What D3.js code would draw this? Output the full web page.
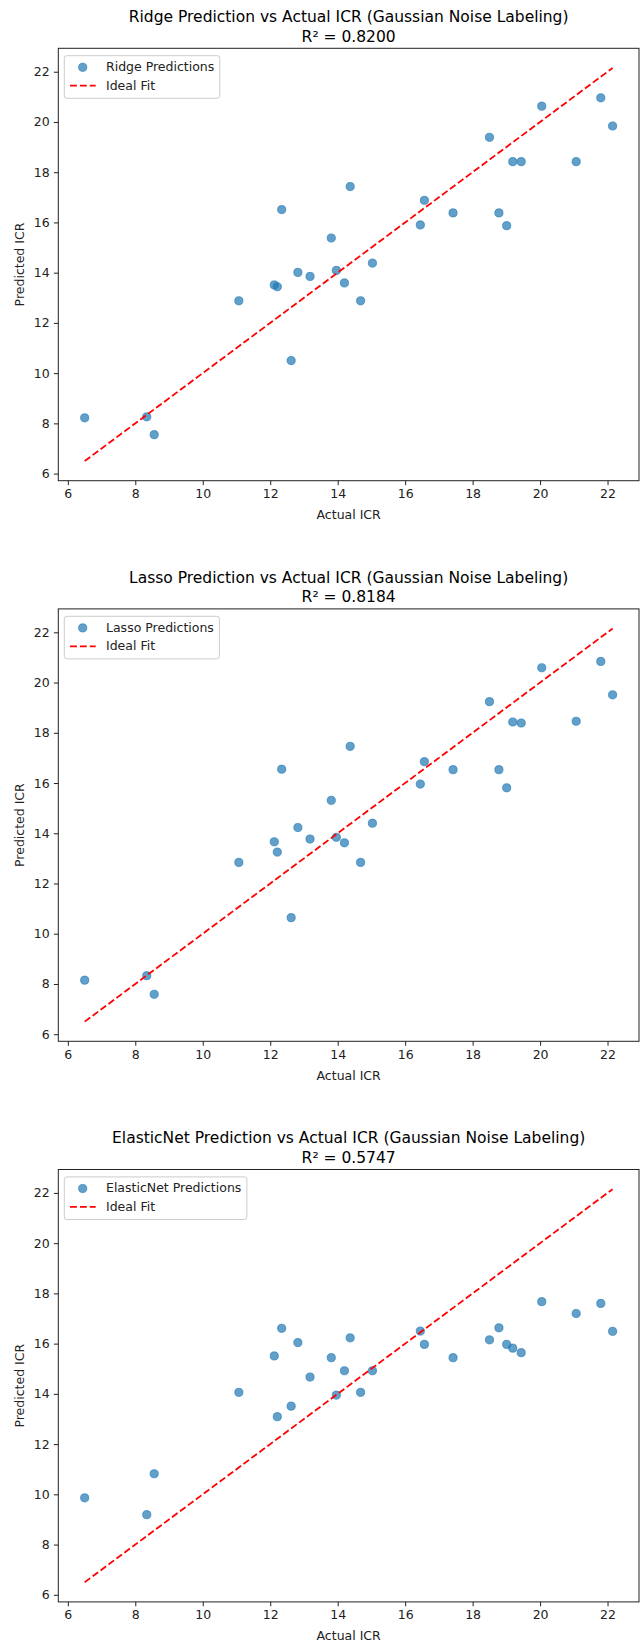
<!DOCTYPE html>
<html>
<head>
<meta charset="utf-8">
<script src="https://cdn.jsdelivr.net/npm/d3@7"></script>
<style>
  body { margin: 0; background: #fff; }
  svg { display: block; font-family: "DejaVu Sans", sans-serif; }
</style>
</head>
<body>
<div id="chart"></div>
<script>
// Section 1: data
// =====================================

// actual ICR values (shared x for every panel)
var actualICR = [6.50, 8.34, 8.56, 11.07, 12.12, 12.21, 12.34, 12.62, 12.82, 13.18,
  13.81, 13.96, 14.20, 14.37, 14.68, 15.03, 16.45, 16.57, 17.42, 18.50,
  18.78, 19.01, 19.19, 19.44, 20.05, 21.07, 21.80, 22.15];

// predicted ICR per model
var ridgePred = [8.22, 8.26, 7.55, 12.88, 13.51, 13.44, 16.51, 10.50, 14.01, 13.85,
  15.38, 14.09, 13.59, 17.43, 12.88, 14.38, 15.90, 16.88, 16.38, 19.39,
  16.38, 15.87, 18.42, 18.42, 20.63, 18.42, 20.96, 19.84];

var lassoPred = [8.15, 8.33, 7.59, 12.84, 13.66, 13.25, 16.55, 10.64, 14.23, 13.77,
  15.31, 13.84, 13.62, 17.46, 12.84, 14.40, 15.96, 16.85, 16.53, 19.24,
  16.53, 15.81, 18.43, 18.39, 20.59, 18.46, 20.84, 19.51];

var elasticPred = [9.86, 9.19, 10.82, 14.06, 15.51, 13.09, 16.61, 13.51, 16.04, 14.67,
  15.44, 13.95, 14.92, 16.23, 14.06, 14.92, 16.50, 15.97, 15.44, 16.15,
  16.63, 15.97, 15.82, 15.64, 17.67, 17.20, 17.60, 16.49];

var modelNames = ["Ridge", "Lasso", "ElasticNet"];
var r2Labels = ["0.8200", "0.8184", "0.5747"];
var tickValues = [6, 8, 10, 12, 14, 16, 18, 20, 22];

// Section 2: layout
// ==================
var width = 643;
var height = 1645;
var panelStep = 560.6;   // vertical distance between panels
var plotLeft = 58.3;
var plotRight = 639;
var plotTop = 48.3;
var plotBottom = 480.7;

var blue = "#1f77b4";
var fontSmall = "12.5px";
var fontTitle = "15.5px";

var svg = d3.select("#chart")
  .append("svg")
  .attr("width", width)
  .attr("height", height);

svg.append("rect")
  .attr("width", width)
  .attr("height", height)
  .attr("fill", "#fff");

// matplotlib style 5% margins around the ideal-fit line range
var lo = d3.min(actualICR);
var hi = d3.max(actualICR);
var pad = (hi - lo) * 0.05;

var xScale = d3.scaleLinear()
  .domain([lo - pad, hi + pad])
  .range([plotLeft, plotRight]);

var yScale = d3.scaleLinear()
  .domain([lo - pad, hi + pad])
  .range([plotBottom, plotTop]);

var allPreds = [ridgePred, lassoPred, elasticPred];

// Section 3: one panel per model
// ===============================
function drawPanel(i) {
  var name = modelNames[i];
  var preds = allPreds[i];
  var g = svg.append("g")
    .attr("transform", "translate(0," + (i * panelStep) + ")");

  var cx = (plotLeft + plotRight) / 2;

  // title, two lines
  g.append("text")
    .attr("x", cx)
    .attr("y", 22)
    .attr("text-anchor", "middle")
    .attr("font-size", fontTitle)
    .attr("fill", "#000")
    .text(name + " Prediction vs Actual ICR (Gaussian Noise Labeling)");
  g.append("text")
    .attr("x", cx)
    .attr("y", 41.7)
    .attr("text-anchor", "middle")
    .attr("font-size", fontTitle)
    .attr("fill", "#000")
    .text("R\u00b2 = " + r2Labels[i]);

  // axes
  var xAxis = d3.axisBottom(xScale)
    .tickValues(tickValues)
    .tickSize(4.4)
    .tickPadding(4.2)
    .tickSizeOuter(0);
  var yAxis = d3.axisLeft(yScale)
    .tickValues(tickValues)
    .tickSize(4.4)
    .tickPadding(4.2)
    .tickSizeOuter(0);

  var xg = g.append("g")
    .attr("transform", "translate(0," + plotBottom + ")")
    .call(xAxis);
  var yg = g.append("g")
    .attr("transform", "translate(" + plotLeft + ",0)")
    .call(yAxis);

  [xg, yg].forEach(function(a) {
    a.select(".domain").remove();
    a.selectAll("line").attr("stroke", "#222").attr("stroke-width", 1);
    a.selectAll("text")
      .attr("font-size", fontSmall)
      .attr("font-family", "DejaVu Sans, sans-serif")
      .attr("fill", "#222");
  });

  // frame
  g.append("rect")
    .attr("x", plotLeft)
    .attr("y", plotTop)
    .attr("width", plotRight - plotLeft)
    .attr("height", plotBottom - plotTop)
    .attr("fill", "none")
    .attr("stroke", "#222")
    .attr("stroke-width", 1);

  // axis labels
  g.append("text")
    .attr("x", cx)
    .attr("y", 519)
    .attr("text-anchor", "middle")
    .attr("font-size", fontSmall)
    .attr("fill", "#222")
    .text("Actual ICR");
  g.append("text")
    .attr("transform", "translate(24," + ((plotTop + plotBottom) / 2) + ")rotate(-90)")
    .attr("text-anchor", "middle")
    .attr("font-size", fontSmall)
    .attr("fill", "#222")
    .text("Predicted ICR");

  // scatter points
  g.append("g")
    .selectAll("circle")
    .data(actualICR)
    .enter()
    .append("circle")
    .attr("cx", function(d) { return xScale(d); })
    .attr("cy", function(d, j) { return yScale(preds[j]); })
    .attr("r", 4.1)
    .attr("fill", blue)
    .attr("fill-opacity", 0.7)
    .attr("stroke", blue)
    .attr("stroke-opacity", 0.7)
    .attr("stroke-width", 0.9);

  // ideal fit line
  g.append("line")
    .attr("x1", xScale(lo))
    .attr("y1", yScale(lo))
    .attr("x2", xScale(hi))
    .attr("y2", yScale(hi))
    .attr("stroke", "red")
    .attr("stroke-width", 1.8)
    .attr("stroke-dasharray", "6.9,3");

  // legend
  var lg = g.append("g");
  var box = lg.append("rect")
    .attr("x", 64.3)
    .attr("y", 55.7)
    .attr("height", 42.6)
    .attr("rx", 2.5)
    .attr("fill", "#fff")
    .attr("fill-opacity", 0.8)
    .attr("stroke", "#cccccc")
    .attr("stroke-width", 1);

  lg.append("circle")
    .attr("cx", 82.7)
    .attr("cy", 67.3)
    .attr("r", 4.1)
    .attr("fill", blue)
    .attr("fill-opacity", 0.7)
    .attr("stroke", blue)
    .attr("stroke-opacity", 0.7)
    .attr("stroke-width", 0.9);
  lg.append("line")
    .attr("x1", 70)
    .attr("x2", 95.7)
    .attr("y1", 85.7)
    .attr("y2", 85.7)
    .attr("stroke", "red")
    .attr("stroke-width", 1.8)
    .attr("stroke-dasharray", "6.9,3");

  var t1 = lg.append("text")
    .attr("x", 106)
    .attr("y", 71)
    .attr("font-size", fontSmall)
    .attr("fill", "#222")
    .text(name + " Predictions");
  var t2 = lg.append("text")
    .attr("x", 106)
    .attr("y", 89.5)
    .attr("font-size", fontSmall)
    .attr("fill", "#222")
    .text("Ideal Fit");

  var textW = Math.max(t1.node().getComputedTextLength(), t2.node().getComputedTextLength());
  box.attr("width", 106 + textW + 5.5 - 64.3);
}

for (var i = 0; i < modelNames.length; i++) {
  drawPanel(i);
}
</script>
</body>
</html>
